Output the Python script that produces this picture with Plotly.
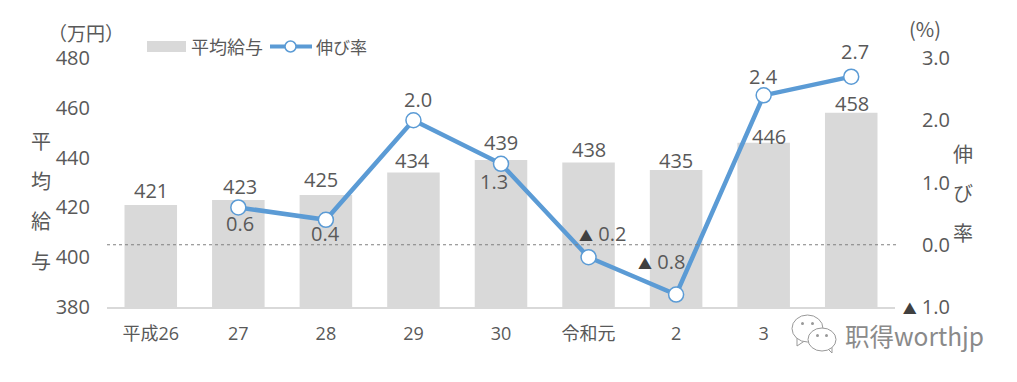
import plotly.graph_objects as go

categories = ["平成26", "27", "28", "29", "30", "令和元", "2", "3", "4"]
salary = [421, 423, 425, 434, 439, 438, 435, 446, 458]
growth = [None, 0.6, 0.4, 2.0, 1.3, -0.2, -0.8, 2.4, 2.7]
left_ticks = [380, 400, 420, 440, 460, 480]
right_ticks = [-1, 0, 1, 2, 3]

# label nudges in pixels (dx, dy upward)
bar_nudge = [(0, 14), (2, 13), (-5, 15), (-1, 12), (0, 18), (0, 13), (0, 10), (5, 6), (1, 9)]
line_nudge = [None, (2, -16), (0, -14), (5, 21), (-7, -18), (14, 24), (-15, 33), (0, 19), (4, 25)]

ORG = 8  # page body margin
W, H = 1017 - ORG, 382 - ORG
L, R, T, B = 107 - ORG, 0, 58 - ORG, 75
GREY = "#595959"
FONT = "'Open Sans', 'Noto Sans CJK JP', sans-serif"
JP = "'Noto Sans CJK JP', sans-serif"
plot_w = W - L - R
plot_h = H - T - B
idx = list(range(len(categories)))

def px(x):
    return (x - ORG - L) / plot_w

def py(y):
    return 1 - (y - ORG - T) / plot_h

def fmt(v):
    if v < 0:
        return f"<span style='font-size:14px;color:#404040'>▲</span> {abs(v):.1f}"
    return f"{v:.1f}"

fig = go.Figure()
fig.add_bar(x=idx, y=salary, width=0.6, marker_color="#d9d9d9", marker_line_width=0,
            yaxis="y", name="平均給与", showlegend=False)
fig.add_scatter(x=idx, y=growth, mode="lines+markers", yaxis="y2", name="伸び率",
                line=dict(color="#5b9bd5", width=4.5),
                marker=dict(size=15, color="white", line=dict(color="#5b9bd5", width=1.5)),
                cliponaxis=False, showlegend=False)

ann = []
def text(x, y, s, size=18, color=GREY, family=JP, **kw):
    ann.append(dict(x=px(x), y=py(y), xref="paper", yref="paper", text=s, showarrow=False,
                    font=dict(size=size, color=color, family=family),
                    xanchor=kw.get("xanchor", "center"), yanchor="middle"))

for i, v, (dx, dy) in zip(idx, salary, bar_nudge):
    ann.append(dict(x=i, y=v, xref="x", yref="y", text=str(v), showarrow=False, xshift=dx, yshift=dy,
                    font=dict(size=20, color=GREY, family=FONT)))
for i, v, n in zip(idx, growth, line_nudge):
    if v is not None:
        ann.append(dict(x=i, y=v, xref="x", yref="y2", text=fmt(v), showarrow=False,
                        xshift=n[0], yshift=n[1], font=dict(size=20, color=GREY, family=FONT)))

text(86, 32, "（万円）", size=19)
text(925, 28, "(%)", size=20)
for ch, y in zip("平均給与", [140, 180, 220, 260]):
    text(41, y, ch, size=20)
for ch, y in zip("伸び率", [153, 192, 232]):
    text(963, y, ch, size=20)
text(189, 46, "平均給与", size=18, xanchor="left")
text(314, 46, "伸び率", size=17, xanchor="left")
text(914, 335, "职得worthjp", size=24.5, color="#8a8a8a")

def paper_shape(kind, x0, y0, x1, y1, **kw):
    return dict(type=kind, xref="paper", yref="paper", x0=px(x0), x1=px(x1),
                y0=py(y0), y1=py(y1), **kw)

def tail(a, b, c):
    pts = [a, b, c]
    d = "M" + " L".join(f"{px(x)},{py(y)}" for x, y in pts)
    return dict(type="path", xref="paper", yref="paper", path=d,
                line=dict(color="#999999", width=1), fillcolor="white")

ICON = dict(color="#999999", width=1)
shapes = [
    dict(type="line", xref="paper", yref="y2", x0=0, x1=px(897), y0=0, y1=0,
         line=dict(color="#7f7f7f", width=1, dash="dot"), layer="above"),
    paper_shape("rect", 147, 41, 186, 52, fillcolor="#d9d9d9", line_width=0),
    paper_shape("line", 270, 46.5, 312, 46.5, line=dict(color="#5b9bd5", width=4)),
    paper_shape("circle", 285, 41, 296, 52, fillcolor="white", line=dict(color="#5b9bd5", width=1.5)),
    # watermark icon
    tail((797, 337), (797, 346), (806, 340)),
    paper_shape("circle", 792, 315, 823, 342, fillcolor="white", line=ICON),
    tail((826, 347), (832, 353), (832, 344)),
    paper_shape("circle", 808, 328, 836, 351, fillcolor="white", line=ICON),
    paper_shape("circle", 801, 322, 804, 325, fillcolor="#999999", line_width=0),
    paper_shape("circle", 811, 322, 814, 325, fillcolor="#999999", line_width=0),
    paper_shape("circle", 816, 334, 819, 337, fillcolor="#999999", line_width=0),
    paper_shape("circle", 825, 334, 828, 337, fillcolor="#999999", line_width=0),
]

fig.update_layout(
    width=W, height=H, margin=dict(l=L, r=R, t=T, b=B, pad=0, autoexpand=False),
    autosize=False, paper_bgcolor="white", plot_bgcolor="white",
    font=dict(family=FONT, color=GREY, size=18),
    xaxis=dict(domain=[0, px(895)], range=[-0.5, 8.5], tickvals=idx[:-1], ticktext=categories[:-1],
               showgrid=False, zeroline=False,
               showline=True, linecolor="#d9d9d9", linewidth=1.5, ticks="outside", ticklen=10,
               tickcolor="rgba(0,0,0,0)", tickfont=dict(size=18, color=GREY, family=FONT)),
    yaxis=dict(range=[380, 480], tickvals=left_ticks, showgrid=False, zeroline=False,
               showline=False, ticks="outside", ticklen=12, tickcolor="rgba(0,0,0,0)",
               tickfont=dict(size=20, color=GREY, family=FONT)),
    yaxis2=dict(range=[-1, 3], overlaying="y", side="left", anchor="free", position=px(950),
                tickvals=right_ticks, ticktext=[fmt(v) for v in right_ticks], showgrid=False,
                zeroline=False, showline=False, ticks="", ticklen=0,
                tickfont=dict(size=20, color=GREY, family=FONT)),
    annotations=ann, shapes=shapes,
)
fig.write_html("out.html")
